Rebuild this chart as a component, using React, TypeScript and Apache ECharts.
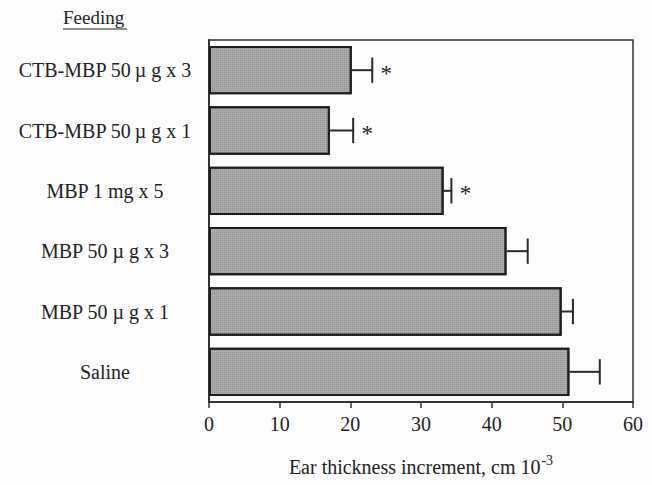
import React, { useEffect, useRef } from "react";
import * as echarts from "echarts";

const categories = [
  "CTB-MBP 50\u202Fµ g x 3",
  "CTB-MBP 50\u202Fµ g x 1",
  "MBP 1 mg x 5",
  "MBP 50 µ g x 3",
  "MBP 50 µ g x 1",
  "Saline",
];
const means = [20.2, 17.1, 33.2, 42.1, 49.9, 51.0];
const errors = [2.9, 3.3, 1.1, 3.0, 1.6, 4.3];
const significant = [true, true, true, false, false, false];
const xTicks = [0, 10, 20, 30, 40, 50, 60];

const FONT = "'Liberation Serif', 'Times New Roman', serif";
const INK = "#222";

export default function App() {
  const ref = useRef<HTMLDivElement>(null);
  useEffect(() => {
    if (!ref.current) return;
    const chart = echarts.init(ref.current, undefined, { renderer: "svg" });
    const errData = means.map((m, i) => [m, i, errors[i], significant[i] ? 1 : 0]);
    chart.setOption({
      animation: false,
      backgroundColor: "#fdfdfd",
      grid: {
        left: 209,
        right: 19,
        top: 40,
        bottom: 83,
        show: true,
        borderColor: "#333",
        borderWidth: 1.5,
        backgroundColor: "transparent",
      },
      xAxis: {
        type: "value",
        min: xTicks[0],
        max: xTicks[xTicks.length - 1],
        interval: 10,
        splitLine: { show: false },
        axisLine: { show: true, lineStyle: { color: "#333", width: 2 } },
        axisTick: { show: true, inside: false, length: 6, lineStyle: { color: "#333", width: 1.5 } },
        axisLabel: { color: INK, fontSize: 20, fontFamily: FONT, margin: 12 },
        name: "{a|Ear thickness increment, cm 10}{s|-3}",
        nameLocation: "middle",
        nameGap: 51,
        nameTextStyle: {
          rich: {
            a: { fontSize: 20, fontFamily: FONT, color: INK, lineHeight: 24, verticalAlign: "bottom" },
            s: { fontSize: 14, fontFamily: FONT, color: INK, lineHeight: 24, verticalAlign: "top", padding: [0, 0, 0, 1] },
          },
        },
      },
      yAxis: {
        type: "category",
        data: categories,
        inverse: true,
        axisLine: { show: true, lineStyle: { color: "#333", width: 2 } },
        axisTick: { show: false },
        axisLabel: { color: INK, fontSize: 20, fontFamily: FONT, align: "center", margin: 104 },
      },
      graphic: [
        {
          type: "text",
          left: 63,
          top: 8,
          style: { text: "Feeding", fontSize: 19, fontFamily: FONT, fill: INK },
        },
        {
          type: "line",
          shape: { x1: 63, y1: 29, x2: 127, y2: 29 },
          style: { stroke: INK, lineWidth: 1 },
        },
      ],
      series: [
        {
          type: "bar",
          data: means,
          barCategoryGap: "20%",
          itemStyle: {
            color: "#ababab",
            borderColor: "#1e1e1e",
            borderWidth: 2,
            decal: {
              symbol: "rect",
              symbolSize: 1,
              dashArrayX: [1, 1],
              dashArrayY: [1, 1],
              color: "rgba(120,120,120,0.5)",
            },
          },
        },
        {
          type: "custom",
          data: errData,
          encode: { x: 0, y: 1 },
          z: 5,
          renderItem: (params: any, api: any) => {
            const mean = api.value(0);
            const idx = api.value(1);
            const err = api.value(2);
            const sig = api.value(3);
            const p1 = api.coord([mean, idx]);
            const p2 = api.coord([mean + err, idx]);
            const half = api.size([0, 1])[1] * 0.21;
            const children: any[] = [
              {
                type: "line",
                shape: { x1: p1[0], y1: p1[1], x2: p2[0], y2: p2[1] },
                style: { stroke: "#2a2a2a", lineWidth: 2 },
              },
              {
                type: "line",
                shape: { x1: p2[0], y1: p2[1] - half, x2: p2[0], y2: p2[1] + half },
                style: { stroke: "#2a2a2a", lineWidth: 2 },
              },
            ];
            if (sig) {
              children.push({
                type: "text",
                style: {
                  text: "*",
                  x: p2[0] + 14,
                  y: p2[1] + 3,
                  fontSize: 23,
                  fontFamily: FONT,
                  fill: INK,
                  align: "center",
                  verticalAlign: "middle",
                },
              });
            }
            return { type: "group", children };
          },
        },
      ],
    });
    return () => chart.dispose();
  }, []);
  return (
    <div
      ref={ref}
      style={{ position: "absolute", left: 0, top: 0, width: 652, height: 485 }}
    />
  );
}
